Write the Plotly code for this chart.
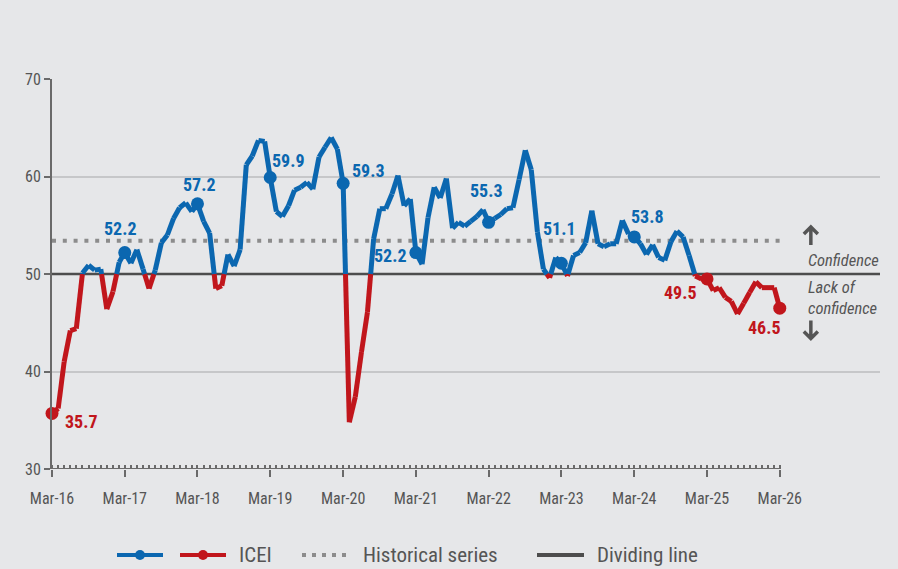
import pandas as pd
import plotly.graph_objects as go

# ICEI monthly values, Mar-16 .. Mar-26
months = pd.date_range("2016-03-01", periods=121, freq="MS")
icei = [
    35.7, 36.2, 41.0, 44.2, 44.4, 50.1, 50.9, 50.4, 50.5, 46.4, 48.2, 51.2,
    52.2, 51.1, 52.5, 50.5, 48.5, 50.4, 53.2, 54.0, 55.7, 56.8, 57.3, 56.4,
    57.2, 55.4, 54.2, 48.5, 48.8, 52.0, 50.8, 52.5, 61.2, 62.1, 63.7, 63.6,
    59.9, 56.4, 55.9, 57.0, 58.6, 58.9, 59.4, 58.7, 62.0, 63.0, 64.0, 62.8,
    59.3, 34.8, 37.4, 42.0, 46.1, 53.6, 56.7, 56.7, 58.2, 60.1, 57.0, 57.7,
    52.2, 51.0, 55.8, 58.9, 57.8, 59.8, 54.7, 55.3, 54.9, 55.4, 55.9, 56.6,
    55.3, 55.7, 56.1, 56.7, 56.8, 59.7, 62.7, 60.7, 54.3, 50.5, 49.6, 51.7,
    51.1, 49.8, 51.9, 52.2, 53.2, 56.5, 53.1, 52.8, 53.1, 53.1, 55.5, 54.1,
    53.8, 53.1, 52.0, 53.0, 51.7, 51.4, 53.3, 54.4, 53.8, 51.9, 49.8, 49.5,
    49.5, 48.3, 48.6, 47.6, 47.2, 45.9, 47.0, 48.1, 49.2, 48.6, 48.6, 48.6,
    46.5,
]
historical_mean = 53.4
dividing_value = 50
tick_labels = ["Mar-%02d" % (16 + i) for i in range(11)]

BLUE = "#0b67b0"
RED = "#c1161c"
GRAY = "#555555"
DARK = "#4d4d4d"
DOTS = "#8c8c8c"
FONT = "Roboto Condensed, Liberation Sans Narrow, Roboto, sans-serif"

W, H = 898, 569
ML, MR, MT, MB = 52, 18, 79, 100


def px_to_paper(px, py):
    return (px - ML) / (W - ML - MR), (H - MB - py) / (H - MT - MB)


# split the series into blue (>=50) and red (<50) pieces
bx, by, rx, ry = [], [], [], []
for i in range(len(icei) - 1):
    t0, t1 = months[i], months[i + 1]
    v0, v1 = icei[i], icei[i + 1]
    a0, a1 = v0 >= dividing_value, v1 >= dividing_value
    if a0 == a1:
        tx, ty = (bx, by) if a0 else (rx, ry)
        tx += [t0, t1, None]
        ty += [v0, v1, None]
    else:
        f = (dividing_value - v0) / (v1 - v0)
        tc = t0 + (t1 - t0) * f
        ax_, ay_ = (bx, by) if a0 else (rx, ry)
        cx_, cy_ = (bx, by) if a1 else (rx, ry)
        ax_ += [t0, tc, None]
        ay_ += [v0, dividing_value, None]
        cx_ += [tc, t1, None]
        cy_ += [dividing_value, v1, None]

x_end = pd.Timestamp("2027-07-17")

fig = go.Figure()

fig.add_trace(go.Scatter(
    x=[months[0], x_end], y=[dividing_value, dividing_value], mode="lines",
    line=dict(color=DARK, width=2.5), showlegend=False, hoverinfo="skip"))
fig.add_trace(go.Scatter(
    x=[months[0], months[-1]], y=[historical_mean, historical_mean], mode="lines",
    line=dict(color=DOTS, width=4, dash="4px,6.8px"), showlegend=False, hoverinfo="skip"))

fig.add_trace(go.Scatter(x=rx, y=ry, mode="lines", line=dict(color=RED, width=5),
                         showlegend=False, hoverinfo="skip", cliponaxis=False))
fig.add_trace(go.Scatter(x=bx, y=by, mode="lines", line=dict(color=BLUE, width=5),
                         showlegend=False, hoverinfo="skip", cliponaxis=False))

# March markers and labels
label_offsets = [(29, -8), (-4, 24), (2, 19), (18, 17), (25, 13), (-25, -3),
                 (-2, 32), (-2, 35), (13, 20), (-27, -14), (-15, -19)]
mx = [months[i] for i in range(0, 121, 12)]
my = [icei[i] for i in range(0, 121, 12)]
mc = [BLUE if v >= dividing_value else RED for v in my]
fig.add_trace(go.Scatter(x=mx, y=my, mode="markers", marker=dict(color=mc, size=13),
                         showlegend=False, cliponaxis=False))
for x, y, c, (dx, dy) in zip(mx, my, mc, label_offsets):
    fig.add_annotation(x=x, y=y, text="<b>%.1f</b>" % y, showarrow=False,
                       xshift=dx, yshift=dy, font=dict(color=c, size=18))

# x axis line only across the data span
fig.add_shape(type="line", xref="x", yref="y", x0=months[0], x1=months[-1], y0=30, y1=30,
              line=dict(color="#6a6a6a", width=2))

# confidence notes
note_x = pd.Timestamp("2026-08-04")
for yv, path in [(53.9, "M0,-9 L0,9 M-7,2 L0,9 L7,2"),
                 (44.3, "M0,9 L0,-9 M-7,-2 L0,-9 L7,-2")]:
    fig.add_shape(type="path", xref="x", yref="y", xsizemode="pixel", ysizemode="pixel",
                  xanchor=note_x, yanchor=yv, path=path,
                  line=dict(color=GRAY, width=3.5))
for yv, txt in [(51.35, "Confidence"), (47.55, "Lack of<br>confidence")]:
    fig.add_annotation(x=note_x, y=yv, text="<i>%s</i>" % txt, showarrow=False,
                       xanchor="left", xshift=-5, align="left",
                       font=dict(size=16.5, color=GRAY))

# legend drawn by hand to match the original layout
leg_y = 555
legend_lines = [(117, 163, BLUE, None), (180, 226, RED, None),
                (302, 352, DOTS, "4px,6px"), (537, 584, DARK, None)]
for x0, x1, col, dash in legend_lines:
    p0 = px_to_paper(x0, leg_y)
    p1 = px_to_paper(x1, leg_y)
    fig.add_shape(type="line", xref="paper", yref="paper", x0=p0[0], x1=p1[0],
                  y0=p0[1], y1=p1[1], line=dict(color=col, width=4, dash=dash or "solid"))
for cx, col in [(140, BLUE), (203, RED)]:
    p = px_to_paper(cx, leg_y)
    fig.add_shape(type="circle", xref="paper", yref="paper", xsizemode="pixel",
                  ysizemode="pixel", xanchor=p[0], yanchor=p[1], x0=-5, x1=5, y0=-5, y1=5,
                  fillcolor=col, line=dict(width=0))
for tx, txt in [(237, "ICEI"), (361, "Historical series"), (595, "Dividing line")]:
    p = px_to_paper(tx, leg_y)
    fig.add_annotation(xref="paper", yref="paper", x=p[0], y=p[1], text=txt,
                       showarrow=False, xanchor="left", yanchor="middle",
                       font=dict(size=21, color=GRAY))

fig.update_layout(
    width=W, height=H, autosize=False,
    paper_bgcolor="#e6e7e9", plot_bgcolor="#e6e7e9",
    margin=dict(l=ML, r=MR, t=MT, b=MB),
    font=dict(family=FONT, color=GRAY, size=15),
    showlegend=False,
    xaxis=dict(
        type="date", range=[months[0], x_end], showgrid=False, zeroline=False,
        showline=False, tickmode="array", tickvals=mx, ticktext=tick_labels,
        ticks="outside", ticklen=7, tickwidth=2, tickcolor="#6a6a6a",
        ticklabelstandoff=8, tickfont=dict(size=16, color=GRAY),
        minor=dict(tickmode="array", tickvals=list(months), ticks="inside",
                   ticklen=4, tickwidth=1.5, tickcolor="#6a6a6a", showgrid=False),
    ),
    yaxis=dict(
        range=[30, 70], tickvals=[30, 40, 50, 60, 70], showgrid=True,
        gridcolor="#c6c7c9", gridwidth=1.5, zeroline=False, showline=True,
        linecolor="#6a6a6a", linewidth=2, ticks="outside", ticklen=6,
        tickwidth=2, tickcolor="#6a6a6a", tickfont=dict(size=16, color=GRAY),
    ),
)

fig.write_html(
    "out.html",
    config={"responsive": False, "displayModeBar": False},
    post_script="document.body.style.margin='0px';"
                "document.body.style.overflow='hidden';"
                "Plotly.relayout(document.getElementById('{plot_id}'), {width: 898, height: 569});",
)
